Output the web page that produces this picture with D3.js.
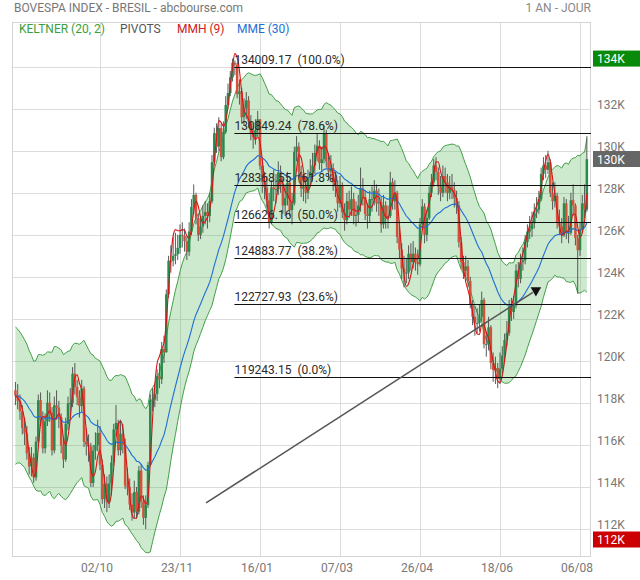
<!DOCTYPE html>
<html><head><meta charset="utf-8">
<script src="https://cdn.jsdelivr.net/npm/d3@7"></script>
<style>body{margin:0;background:#fff}svg{display:block;font-family:Roboto,"Open Sans",sans-serif}</style>
</head><body><svg id="c" width="640" height="580"></svg>
<script>
// ---- data (values in thousands of points) ----
const opens=[118.60,118.35,118.10,117.60,116.80,116.55,115.60,114.98,115.40,114.45,
116.16,118.13,117.20,115.84,117.12,118.01,117.54,115.74,117.89,117.78,
117.33,115.99,115.31,117.00,117.97,118.00,119.39,118.76,118.29,117.85,
118.69,116.15,116.01,115.93,114.19,115.73,116.00,116.57,115.06,113.42,
114.15,113.28,114.17,115.16,116.74,117.05,115.75,116.53,116.01,114.06,
114.00,113.16,112.78,113.76,112.83,114.78,113.30,112.53,113.14,115.05,
118.16,118.16,118.43,119.27,119.13,120.57,120.41,123.17,124.77,124.77,
125.00,125.08,125.38,126.00,125.95,125.70,125.20,126.16,127.33,127.90,
126.80,126.00,126.40,126.90,127.09,126.90,127.60,129.46,130.84,130.20,
131.08,129.70,130.90,132.18,132.75,133.50,134.19,134.10,132.70,132.83,
131.60,132.02,132.40,131.40,130.84,130.65,130.99,131.50,129.29,128.52,
128.26,127.64,126.60,128.26,128.17,128.17,128.97,128.40,127.40,127.75,
128.48,127.18,127.50,129.95,130.20,129.00,128.20,128.30,128.00,128.73,
129.00,129.30,129.90,130.24,129.42,129.60,130.80,129.50,129.02,129.18,
128.50,128.30,127.50,128.34,127.07,126.70,127.60,127.20,127.70,126.90,
126.95,127.40,128.20,127.80,127.00,126.90,127.70,127.70,128.10,127.50,
127.55,126.50,127.40,126.80,126.90,128.50,127.60,128.00,125.90,125.30,
124.40,124.20,124.20,125.10,124.70,125.10,124.70,124.60,126.50,127.35,
126.00,126.80,128.00,128.50,129.30,129.00,128.30,128.00,128.80,128.50,
128.00,128.30,128.15,127.75,127.40,125.65,124.70,124.30,124.50,123.80,
122.70,122.10,121.80,121.80,122.10,122.90,120.80,120.80,121.60,119.90,
119.57,119.66,119.14,119.63,120.26,121.00,121.34,122.60,122.33,122.64,
124.30,123.90,124.70,124.79,125.66,126.16,126.27,126.55,127.10,127.20,
127.70,128.90,129.30,129.10,129.45,128.00,127.60,127.86,126.60,126.40,
126.00,127.50,126.10,126.10,127.65,127.40,125.85,125.27,126.27,127.50,
127.20];
const highs=[119.0,118.9,118.4,117.9,117.3,116.9,115.9,115.9,115.6,116.4,
118.4,118.5,117.6,117.5,118.6,118.5,117.8,118.3,118.6,118.1,
117.5,116.3,117.3,118.3,118.7,119.7,119.9,119.1,118.6,119.1,
118.8,116.8,116.5,116.1,116.0,116.6,117.2,116.9,115.3,114.6,
114.5,114.6,115.5,117.0,117.9,117.2,117.2,117.0,116.3,114.9,
114.4,113.7,114.3,114.0,115.0,115.1,113.6,113.6,115.2,118.4,
118.7,118.9,119.6,119.9,120.9,121.2,123.4,125.0,125.5,125.9,
126.1,126.0,126.5,126.6,126.3,125.9,126.6,127.7,128.4,128.0,
127.0,126.9,127.4,127.6,127.5,128.0,129.8,131.1,131.3,131.6,
131.3,131.4,132.6,133.2,133.8,134.39,134.3,134.2,133.4,133.0,
132.5,132.8,132.6,131.7,131.3,131.5,131.9,131.5,129.6,129.0,
128.8,128.0,128.6,129.1,128.9,129.5,129.3,128.7,128.4,129.0,
128.6,128.0,130.2,130.7,130.4,129.3,128.9,128.7,129.1,129.6,
129.9,130.3,130.8,130.5,130.2,131.2,131.0,129.9,129.8,129.4,
129.0,128.6,128.8,128.5,127.5,128.0,128.1,128.3,128.0,127.6,
127.9,129.2,128.7,128.1,127.5,128.1,128.3,128.6,128.4,128.2,
127.8,127.9,127.6,127.4,129.0,128.7,128.6,128.1,126.4,125.6,
125.0,124.9,125.5,125.6,125.7,125.4,125.3,126.8,127.7,127.5,
127.2,128.3,128.9,129.6,129.7,129.2,128.8,129.3,129.2,128.9,
128.8,128.9,128.5,128.1,127.6,125.9,125.0,125.0,124.8,124.0,
122.9,122.6,122.5,122.7,123.3,123.0,121.4,122.1,121.7,120.4,
120.2,119.9,120.4,120.7,121.3,121.9,122.9,123.0,123.1,124.6,
124.7,125.1,125.4,126.0,126.5,126.9,127.1,127.5,127.8,128.1,
129.2,129.7,129.8,130.0,129.6,128.5,128.5,128.0,127.2,126.8,
127.8,127.7,126.9,128.0,128.4,127.5,126.0,126.6,127.9,128.4,
130.7];
const lows=[117.9,117.7,117.2,116.5,116.0,115.3,114.6,114.5,114.2,114.3,
116.0,116.9,115.6,115.6,116.9,117.1,115.5,115.6,117.2,116.8,
115.6,114.9,115.2,116.7,117.3,117.8,118.4,117.9,117.3,117.6,
115.9,115.5,115.2,114.0,114.0,115.3,115.7,114.8,113.2,113.0,
112.8,113.0,113.6,115.0,116.4,115.5,115.5,115.6,113.9,113.6,
112.9,112.4,112.5,112.5,112.7,113.0,112.2,112.0,113.0,115.0,
117.6,117.8,118.1,118.7,118.9,119.9,120.4,123.0,124.2,124.5,
124.6,124.8,125.1,125.4,125.2,124.8,125.0,126.0,127.0,126.5,
125.7,125.8,126.1,126.5,126.3,126.6,127.5,129.3,129.9,130.0,
129.5,129.6,130.8,132.0,132.6,133.3,133.6,132.5,132.2,131.3,
131.2,131.5,131.1,130.5,130.1,130.3,130.7,129.1,128.0,127.7,
127.3,126.3,126.5,127.6,127.5,127.9,128.0,127.0,126.9,127.4,
126.9,126.5,127.4,129.5,128.7,127.8,127.6,127.5,127.7,128.3,
128.6,128.9,129.5,129.1,129.0,129.4,129.2,128.6,128.6,128.1,
127.8,127.1,127.3,126.8,126.2,126.5,126.8,126.9,126.5,126.4,
126.6,127.1,127.4,126.7,126.3,126.6,127.1,127.4,127.1,126.9,
126.1,126.3,126.3,126.3,126.8,127.2,127.2,125.6,124.9,123.9,
123.5,123.7,123.9,124.3,124.4,124.3,124.1,124.5,126.3,125.6,
125.7,126.7,127.8,128.3,128.6,127.9,127.6,127.8,128.0,127.6,
127.7,127.7,127.3,127.0,125.4,124.4,123.9,124.0,123.5,122.5,
121.7,121.2,121.3,121.4,121.9,120.6,120.2,120.5,119.6,119.0,
118.9,118.7,118.9,119.4,120.0,120.7,121.2,121.9,122.0,122.5,
123.5,123.7,124.3,124.6,125.4,125.8,125.9,126.3,126.8,127.0,
127.6,128.6,128.7,128.9,127.8,127.2,127.3,126.3,126.0,125.6,
125.9,125.8,125.6,126.0,126.9,125.5,123.2,125.0,126.1,126.8,
127.1];
const closes=[118.35,118.10,117.60,116.80,116.55,115.60,114.98,115.40,114.45,116.16,
118.13,117.20,115.84,117.12,118.01,117.54,115.74,117.89,117.78,117.33,
115.99,115.31,117.00,117.97,118.00,119.39,118.76,118.29,117.85,118.69,
116.15,116.01,115.93,114.19,115.73,116.00,116.57,115.06,113.42,114.15,
113.28,114.17,115.16,116.74,117.05,115.75,116.53,116.01,114.06,114.00,
113.16,112.78,113.76,112.83,114.78,113.30,112.53,113.14,115.05,118.16,
118.16,118.43,119.27,119.13,120.57,120.41,123.17,124.77,124.77,125.00,
125.08,125.38,126.00,125.95,125.70,125.20,126.16,127.33,127.90,126.80,
126.00,126.40,126.90,127.09,126.90,127.60,129.46,130.84,130.20,131.08,
129.70,130.90,132.18,132.75,133.50,134.19,134.10,132.70,132.83,131.60,
132.02,132.40,131.40,130.84,130.65,130.99,131.50,129.29,128.52,128.26,
127.64,126.60,128.26,128.17,128.17,128.97,128.40,127.40,127.75,128.48,
127.18,127.50,129.95,130.20,129.00,128.20,128.30,128.00,128.73,129.00,
129.30,129.90,130.24,129.42,129.60,130.80,129.50,129.02,129.18,128.50,
128.30,127.50,128.34,127.07,126.70,127.60,127.20,127.70,126.90,126.95,
127.40,128.20,127.80,127.00,126.90,127.70,127.70,128.10,127.50,127.55,
126.50,127.40,126.80,126.90,128.50,127.60,128.00,125.90,125.30,124.40,
124.20,124.20,125.10,124.70,125.10,124.70,124.60,126.50,127.35,126.00,
126.80,128.00,128.50,129.30,129.00,128.30,128.00,128.80,128.50,128.00,
128.30,128.15,127.75,127.40,125.65,124.70,124.30,124.50,123.80,122.70,
122.10,121.80,121.80,122.10,122.90,120.80,120.80,121.60,119.90,119.57,
119.66,119.14,119.63,120.26,121.00,121.34,122.60,122.33,122.64,124.30,
123.90,124.70,124.79,125.66,126.16,126.27,126.55,127.10,127.20,127.70,
128.90,129.30,129.10,129.45,128.00,127.60,127.86,126.60,126.40,126.00,
127.50,126.10,126.10,127.65,127.40,125.85,125.27,126.27,127.50,127.20,
129.60];
const xTickIdx=[37,72,107,142,177,212,247];
const xTickLabels=["02/10","23/11","16/01","07/03","26/04","18/06","06/08"];
const yTickValues=[112,114,116,118,120,122,124,126,128,130,132];
const yTickLabels=["112K","114K","116K","118K","120K","122K","124K","126K","128K","130K","132K"];
const yGridValues=[112,114,116,118,120,122,124,126,128,130,132,134];
const fibValues=[134.00917,130.84924,128.36855,126.62616,124.88377,122.72793,119.24315];
const fibTexts=["134009.17","130849.24","128368.55","126626.16","124883.77","122727.93","119243.15"];
const fibPcts=["100.0%","78.6%","61.8%","50.0%","38.2%","23.6%","0.0%"];
const fibStartIdx=95.8;
const trendIdx=[83.4,227.7];
const trendVals=[113.24,123.36];
const tagValues=[134.39,129.61,111.5];
const tagLabels=["134K","130K","112K"];
const tagColors=["#0a8a0a","#666666","#cc0000"];
const legendTexts=["KELTNER (20, 2)","PIVOTS","MMH (9)","MME (30)"];
const legendColors=["#3c9e3c","#555555","#cc2020","#1f6fd0"];
const legendX=[19,120,177,237];

// ---- layout ----
const L=12,R=591,T=22,B=557;
const svg=d3.select("#c");
const x=d3.scaleLinear().domain([0,250]).range([15.43,586.86]);
const y=d3.scaleLinear().domain([110.667,136.131]).range([B,T]);
const n=closes.length;
const idx=d3.range(n);

// indicators derived from the price data
function ema(a,p){const k=2/(p+1);const o=[a[0]];for(let i=1;i<a.length;i++)o.push(a[i]*k+o[i-1]*(1-k));return o;}
function wma(a,p,i){let s=0,w=0;const st=Math.max(0,i-p+1);for(let j=st;j<=i;j++){const wt=j-st+1;s+=a[j]*wt;w+=wt;}return s/w;}
const tr=idx.map(i=>i===0?highs[0]-lows[0]:Math.max(highs[i]-lows[i],Math.abs(highs[i]-closes[i-1]),Math.abs(lows[i]-closes[i-1])));
const atr=[d3.mean(tr.slice(0,20))];
for(let i=1;i<n;i++)atr.push(atr[i-1]+(tr[i]-atr[i-1])*2/21);
const mid=ema(closes,20);
const kUp=idx.map(i=>mid[i]+2*atr[i]);
const kDn=idx.map(i=>mid[i]-2*atr[i]);
const mme=ema(closes,30);
const raw=idx.map(i=>2*wma(closes,4,i)-wma(closes,9,i));
const hma=idx.map(i=>wma(raw,3,i));

svg.append("defs").append("clipPath").attr("id","clip").append("rect").attr("x",L).attr("y",T).attr("width",R-L).attr("height",B-T);

// grid
const g=svg.append("g");
g.selectAll(".hg").data(yGridValues).join("line").attr("x1",L).attr("x2",R).attr("y1",d=>Math.round(y(d))+0.5).attr("y2",d=>Math.round(y(d))+0.5).attr("stroke","#dcdcdc");
g.selectAll(".vg").data(xTickIdx).join("line").attr("y1",T).attr("y2",B).attr("x1",d=>Math.round(x(d))+0.5).attr("x2",d=>Math.round(x(d))+0.5).attr("stroke","#dcdcdc");
g.append("rect").attr("x",L+0.5).attr("y",T+0.5).attr("width",R-L-1).attr("height",B-T-1).attr("fill","none").attr("stroke","#d4d4d4");

const pg=svg.append("g").attr("clip-path","url(#clip)");
// keltner
pg.append("path").datum(idx).attr("fill","#4caf50").attr("fill-opacity",0.28)
  .attr("d",d3.area().x(i=>x(i)).y0(i=>y(kDn[i])).y1(i=>y(kUp[i])));
pg.append("path").datum(idx).attr("fill","none").attr("stroke","#43a047").attr("stroke-width",1).attr("d",d3.line().x(i=>x(i)).y(i=>y(kUp[i])));
pg.append("path").datum(idx).attr("fill","none").attr("stroke","#43a047").attr("stroke-width",1).attr("d",d3.line().x(i=>x(i)).y(i=>y(kDn[i])));

// candles
pg.selectAll(".wk").data(idx).join("line").attr("x1",i=>x(i)).attr("x2",i=>x(i)).attr("y1",i=>y(highs[i])).attr("y2",i=>y(lows[i])).attr("stroke","#474747").attr("stroke-width",0.9);
pg.selectAll(".bd").data(idx).join("rect").attr("x",i=>x(i)-1.25).attr("width",2.5)
  .attr("y",i=>y(Math.max(opens[i],closes[i])))
  .attr("height",i=>Math.max(1,Math.abs(y(opens[i])-y(closes[i]))))
  .attr("fill",i=>closes[i]>=opens[i]?"#2a8a4e":"#d4503a");

// MME & MMH
pg.append("path").datum(idx).attr("fill","none").attr("stroke","#1f6fd6").attr("stroke-width",1.1).attr("d",d3.line().x(i=>x(i)).y(i=>y(mme[i])));
pg.append("path").datum(idx).attr("fill","none").attr("stroke","#d41515").attr("stroke-width",1.1).attr("d",d3.line().curve(d3.curveMonotoneX).x(i=>x(i)).y(i=>y(hma[i])));

// fib lines
const fg=svg.append("g");
fg.selectAll("line").data(fibValues).join("line").attr("x1",x(fibStartIdx)).attr("x2",R).attr("y1",d=>Math.round(y(d))+0.5).attr("y2",d=>Math.round(y(d))+0.5).attr("stroke","#111").attr("stroke-width",1.2);
fg.selectAll("text").data(fibValues).join("text").attr("x",x(fibStartIdx)).attr("y",d=>y(d)-3)
  .attr("font-size",12).attr("fill","#2a2a2a").style("white-space","pre")
  .text((d,i)=>fibTexts[i]+"  ("+fibPcts[i]+")");

// trend line with marker
svg.append("line").attr("x1",x(trendIdx[0])).attr("y1",y(trendVals[0])).attr("x2",x(trendIdx[1])-3).attr("y2",y(trendVals[1])+2)
  .attr("stroke","#555").attr("stroke-width",1.5);
svg.append("path").attr("d",d3.symbol(d3.symbolTriangle,48)()).attr("transform",`translate(${x(trendIdx[1])},${y(trendVals[1])}) rotate(180)`).attr("fill","#111");

// legend
svg.selectAll(".lg").data(legendTexts).join("text").attr("x",(d,i)=>legendX[i]).attr("y",33).attr("font-size",12).attr("fill",(d,i)=>legendColors[i]).text(d=>d);

// titles
svg.append("text").attr("x",14).attr("y",12).attr("font-size",12).attr("fill","#777").text("BOVESPA INDEX - BRESIL - abcbourse.com");
svg.append("text").attr("x",R).attr("y",12).attr("text-anchor","end").attr("font-size",12).attr("fill","#888").text("1 AN - JOUR");

// axes
svg.selectAll(".yl").data(yTickValues).join("text").attr("x",597).attr("y",d=>y(d)).attr("font-size",12).attr("fill","#777").text((d,i)=>yTickLabels[i]);
svg.selectAll(".xl").data(xTickIdx).join("text").attr("x",d=>x(d)-3).attr("y",572).attr("text-anchor","middle").attr("font-size",12).attr("fill","#777").text((d,i)=>xTickLabels[i]);

// price tags
const tg=svg.selectAll(".tag").data(tagValues).join("g").attr("transform",d=>`translate(593,${y(d)})`);
tg.append("rect").attr("x",0).attr("y",-8).attr("width",47).attr("height",16).attr("fill",(d,i)=>tagColors[i]);
tg.append("text").attr("x",4).attr("y",4.5).attr("font-size",12).attr("fill","#fff").text((d,i)=>tagLabels[i]);
</script></body></html>
